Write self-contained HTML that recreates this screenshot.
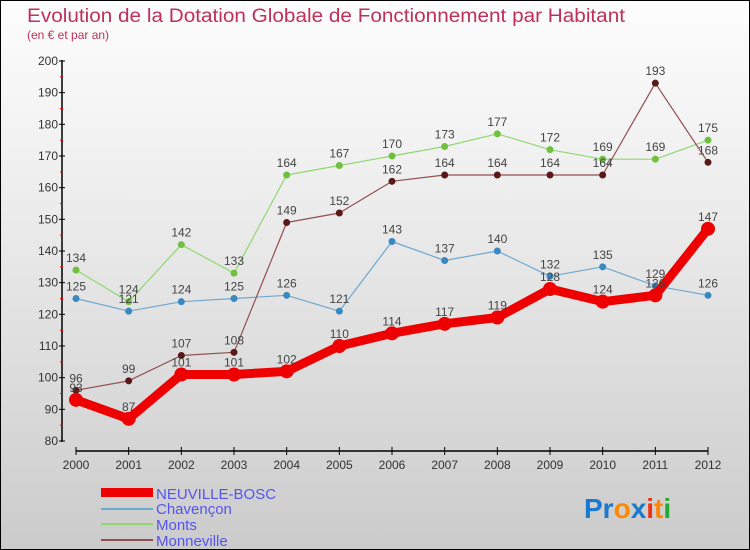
<!DOCTYPE html>
<html><head><meta charset="utf-8"><style>
body{margin:0}
#c{width:750px;height:550px;position:relative;box-sizing:border-box;border:1px solid #000;background:linear-gradient(#fdfdfd,#f0f0f0 30%,#d6d6d6 80%,#cbcbcb);font-family:"Liberation Sans",sans-serif;overflow:hidden}
svg{position:absolute;left:0;top:0}
</style></head><body>
<div id="c">
<svg id="s" width="750" height="550">
<text x="26" y="21" font-size="19" textLength="598" lengthAdjust="spacingAndGlyphs" fill="#c0305a">Evolution de la Dotation Globale de Fonctionnement par Habitant</text>
<text x="26" y="38" font-size="12" fill="#c0305a">(en € et par an)</text>
<g id="g"></g>
<g>
<rect x="100" y="487" width="52" height="9" fill="#ee0000"/>
<text x="155" y="498" font-size="15" fill="#5555ee">NEUVILLE-BOSC</text>
<line x1="100" y1="508" x2="152" y2="508" stroke="#6fa8d0" stroke-width="2"/>
<text x="155" y="513" font-size="15" fill="#5555ee">Chavençon</text>
<line x1="100" y1="523" x2="152" y2="523" stroke="#90d870" stroke-width="2"/>
<text x="155" y="529" font-size="15" fill="#5555ee">Monts</text>
<line x1="100" y1="539" x2="152" y2="539" stroke="#905050" stroke-width="2"/>
<text x="155" y="545" font-size="15" fill="#5555ee">Monneville</text>
</g>
<text x="583" y="517" font-size="28" font-weight="bold"><tspan fill="#1a7ad0">Pr</tspan><tspan fill="#ff8800">o</tspan><tspan fill="#1a7ad0">x</tspan><tspan fill="#ee3311">i</tspan><tspan fill="#ff8800">t</tspan><tspan fill="#22aa33">i</tspan></text>
</svg>
</div>
<script>
const years=[2000,2001,2002,2003,2004,2005,2006,2007,2008,2009,2010,2011,2012];
const neuville=[93,87,101,101,102,110,114,117,119,128,124,126,147];
const chavencon=[125,121,124,125,126,121,143,137,140,132,135,129,126];
const monts=[134,124,142,133,164,167,170,173,177,172,169,169,175];
const monneville=[96,99,107,108,149,152,162,164,164,164,164,193,168];
const yTicks=[80,90,100,110,120,130,140,150,160,170,180,190,200];
const NS="http://www.w3.org/2000/svg";
const g=document.getElementById('g');
const xS=i=>75+i*(707-75)/12;
const yS=v=>440-(v-80)*(380/120);
function el(t,a,p){const e=document.createElementNS(NS,t);for(const k in a)e.setAttribute(k,a[k]);(p||g).appendChild(e);return e;}
let ax=el('line',{x1:61,y1:59,x2:61,y2:441,stroke:'#000','stroke-width':1.5});


let xa=el('line',{x1:75,y1:450,x2:707,y2:450,stroke:'#000','stroke-width':1.5});


yTicks.forEach(v=>{
 el('line',{x1:58,x2:64,y1:yS(v),y2:yS(v),stroke:'#000'});
 if(v<200) el('line',{x1:59,x2:62,y1:yS(v+5),y2:yS(v+5),stroke:'#e00'});
 const t=el('text',{x:57,y:yS(v)+4,'font-size':12,'text-anchor':'end',fill:'#333'});
 t.textContent=v;
 
 
});
years.forEach((y,i)=>{
 el('line',{x1:xS(i),x2:xS(i),y1:446,y2:454,stroke:'#000'});
 const t=el('text',{x:xS(i),y:468,'font-size':12,'text-anchor':'middle',fill:'#333'});
 t.textContent=y;
 
 
});
function series(d,col,dot,w,r,name){
 const p=el('polyline',{points:d.map((v,i)=>xS(i)+','+yS(v)).join(' '),fill:'none',stroke:col,'stroke-width':w,'stroke-linejoin':'round'});
 
 
 d.forEach((v,i)=>{
  const c=el('circle',{cx:xS(i),cy:yS(v),r:r,fill:dot});
  
  
  const t=el('text',{x:xS(i),y:yS(v)-8,'font-size':12,'text-anchor':'middle',fill:'#444'});
  t.textContent=v;
  
  
 });
}
series(monts,'#90d870','#70c040',1.2,3.5,'monts');
series(chavencon,'#6fa8d0','#3a88c0',1.2,3.5,'chavencon');
series(monneville,'#905050','#5a1818',1.2,3.5,'monneville');
series(neuville,'#ee0000','#ee0000',9,7,'neuville');
</script>
</body></html>
